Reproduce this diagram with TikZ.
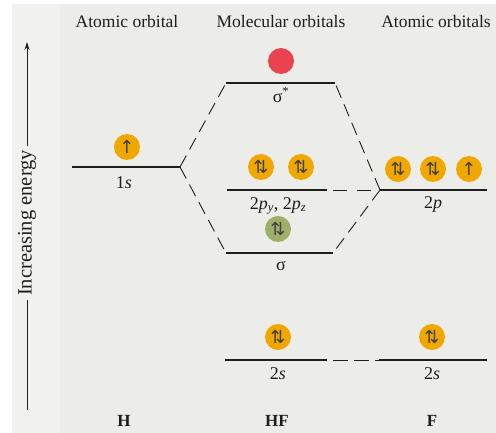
\documentclass[tikz,border=0pt]{standalone}
\usepackage{fontspec}
\setmainfont{Liberation Serif}
\newfontfamily\symf{DejaVu Sans}
\usetikzlibrary{arrows.meta}
\definecolor{bgc}{HTML}{ECECE8}
\definecolor{bgl}{HTML}{F1F1EE}
\definecolor{orb}{HTML}{F0A800}
\definecolor{grn}{HTML}{9DAF68}
\definecolor{redc}{HTML}{E8434E}
\definecolor{ink}{HTML}{1E1E1E}
\begin{document}
\begin{tikzpicture}[x=1pt,y=-1pt,
  lvl/.style={line width=1.1pt, draw=ink},
  conn/.style={line width=0.9pt, draw=ink, dash pattern=on 13pt off 7pt},
  lab/.style={text=ink, font=\fontsize{18}{20}\selectfont, inner sep=1pt},
  hdr/.style={text=ink, font=\fontsize{17.5}{20}\selectfont, inner sep=1pt},
  bot/.style={text=ink, font=\bfseries\fontsize{17}{19}\selectfont, inner sep=1pt},
  el/.style={circle, fill=orb, minimum size=26pt, inner sep=0pt, text=ink!85,
    font=\symf\fontsize{18}{18}\selectfont}]
\useasboundingbox (0,0) rectangle (496,433);
\fill[white] (0,0) rectangle (496,433);
\fill[bgl] (12,4) rectangle (60,433);
\fill[bgc] (60,4) rectangle (496,433);
% headers
\node[hdr] (h1) at (127,22) {Atomic orbital};
\node[hdr] (h2) at (281,22) {Molecular orbitals};
\node[hdr] (h3) at (436,22) {Atomic orbitals};
% energy axis
\node[hdr, rotate=90, inner sep=4pt, font=\fontsize{20.5}{22}\selectfont] (en) at (27,223) {Increasing energy};
\coordinate (axb) at (27,410);
\coordinate (axt) at (27,42);
\draw[line width=0.9pt, draw=ink] (axb) -- (en.west);
\draw[line width=0.9pt, draw=ink, -{Stealth[length=8pt,width=5pt]}] (en.east) -- (axt);
% levels
\coordinate (hsL) at (72,167);   \coordinate (hsR) at (180,167);
\coordinate (ssL) at (226,83);   \coordinate (ssR) at (335,83);
\coordinate (piL) at (227,190);  \coordinate (piR) at (327,190);
\coordinate (fpL) at (380,190);  \coordinate (fpR) at (487,190);
\coordinate (sgL) at (226,253);  \coordinate (sgR) at (333,253);
\coordinate (tsL) at (225,360);  \coordinate (tsR) at (327,360);
\coordinate (fsL) at (379,360);  \coordinate (fsR) at (487,360);
\draw[lvl] (hsL) -- (hsR);
\draw[lvl] (ssL) -- (ssR);
\draw[lvl] (piL) -- (piR);
\draw[lvl] (fpL) -- (fpR);
\draw[lvl] (sgL) -- (sgR);
\draw[lvl] (tsL) -- (tsR);
\draw[lvl] (fsL) -- (fsR);
% connectors
\draw[conn] (hsR) -- (ssL);
\draw[conn] (hsR) -- (sgL);
\draw[conn] (fpL) -- (ssR);
\draw[conn] (fpL) -- (sgR);
\draw[conn, dash pattern=on 14pt off 10pt, dash phase=-6pt] (piR) -- (fpL);
\draw[conn, dash pattern=on 15pt off 6pt, dash phase=-6pt] (tsR) -- (fsL);
% labels
\node[lab] (l1s) at (124,183) {1\textit{s}};
\node[lab] (lss) at (281,95) {σ\textsuperscript{*}};
\node[lab] (lpi) at (278,206) {2\textit{p}\textsubscript{\textit{y}}, 2\textit{p}\textsubscript{\textit{z}}};
\node[lab] (l2p) at (433,204) {2\textit{p}};
\node[lab] (lsg) at (281,266) {σ};
\node[lab] (l2s) at (278,374) {2\textit{s}};
\node[lab] (lf2s) at (432,374) {2\textit{s}};
\node[bot] (bH) at (124,421) {H};
\node[bot] (bHF) at (277,421) {HF};
\node[bot] (bF) at (432,421) {F};
% electrons
\node[el] (e1) at (127,147) {↑};
\node[el, fill=redc] (e2) at (281,61) {};
\node[el] (e3) at (261,167) {⇅};
\node[el] (e4) at (301,167) {⇅};
\node[el] (e5) at (398,169) {⇅};
\node[el] (e6) at (433,169) {⇅};
\node[el] (e7) at (469,169) {↑};
\node[el, fill=grn] (e8) at (278,229) {⇅};
\node[el] (e9) at (278,337) {⇅};
\node[el] (e10) at (432,337) {⇅};
\end{tikzpicture}
\end{document}
